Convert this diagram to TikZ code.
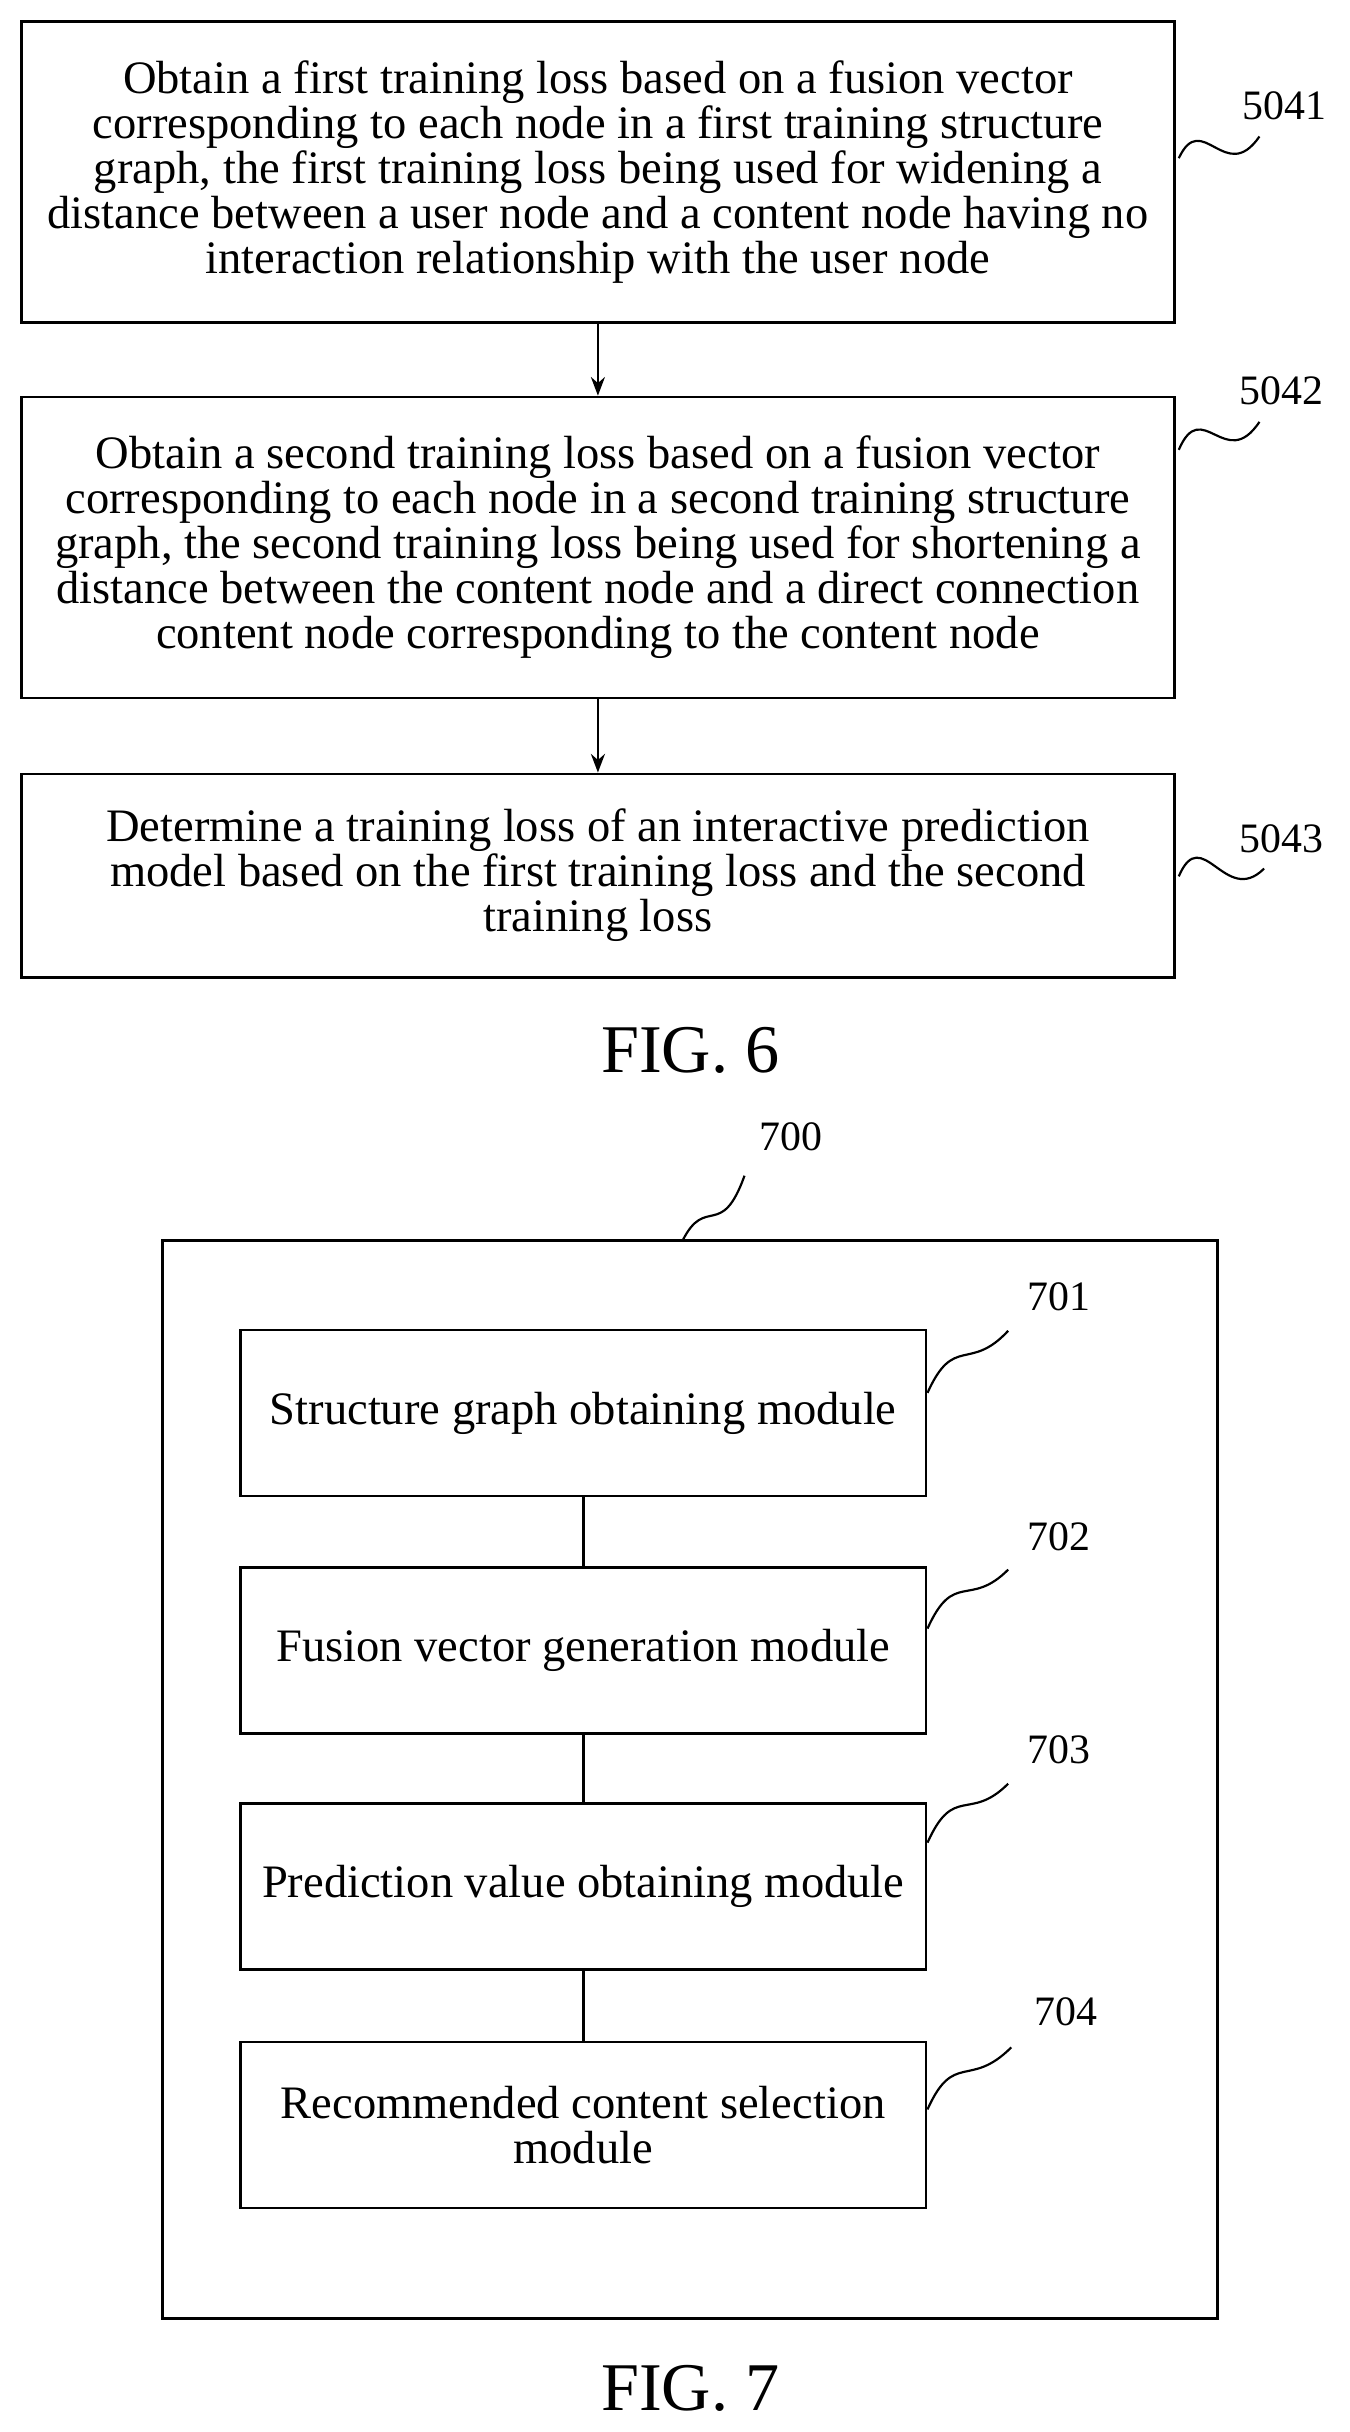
\documentclass[tikz,border=0pt]{standalone}
\usepackage{fontspec}
\setmainfont{Liberation Serif}
\usetikzlibrary{arrows.meta}
\begin{document}
\begin{tikzpicture}[x=1pt,y=-1pt,
  box/.style={draw,line width=1.8pt,align=center,font=\fontsize{30}{29}\selectfont,inner sep=0pt},
  lab/.style={font=\fontsize{27}{28}\selectfont},
  sq/.style={line width=1.4pt},
  arr/.style={line width=1.8pt,-{Stealth[length=12pt,width=9pt]}},
  fig/.style={font=\fontsize{44}{48}\selectfont}]
\useasboundingbox (0,0) rectangle (870,1568);
\node[box,minimum width=743,minimum height=194] (b1) at (385.5,111) {Obtain a first training loss based on a fusion vector\\corresponding to each node in a first training structure\\graph, the first training loss being used for widening a\\distance between a user node and a content node having no\\interaction relationship with the user node};
\node[box,minimum width=743,minimum height=194] (b2) at (385.5,353) {Obtain a second training loss based on a fusion vector\\corresponding to each node in a second training structure\\graph, the second training loss being used for shortening a\\distance between the content node and a direct connection\\content node corresponding to the content node};
\node[box,minimum width=743,minimum height=131] (b3) at (385.5,564.5) {Determine a training loss of an interactive prediction\\model based on the first training loss and the second\\training loss};
\draw[arr] (b1.south) -- (b2.north);
\draw[arr] (b2.south) -- (b3.north);
\node[lab] (l1) at (828,68) {5041};
\node[lab] (l2) at (826,252) {5042};
\node[lab] (l3) at (826,541) {5043};
\coordinate (c1) at (760,102); \coordinate (c2) at (760,290); \coordinate (c3) at (760,565);
\draw[sq] (c1) .. controls (775,70) and (790,120) .. (812,88);
\draw[sq] (c2) .. controls (775,255) and (790,305) .. (812,272);
\draw[sq] (c3) .. controls (775,530) and (790,585) .. (815,560);
\node[fig] (f6) at (445,677) {FIG. 6};
\node[draw,line width=1.8pt,minimum width=680,minimum height=695,inner sep=0pt] (outer) at (445,1147.5) {};
\node[lab] (l700) at (510,733) {700};
\draw[sq] (440,800) .. controls (455,770) and (465,800) .. (480,758);
\foreach \n/\y/\t in {701/911/{Structure graph obtaining module},702/1064/{Fusion vector generation module},703/1216.5/{Prediction value obtaining module},704/1370/{Recommended content selection\\module}}{
  \node[box,minimum width=442,minimum height=107] (m\n) at (376,\y) {\t};
}
\draw[line width=1.8pt] (m701) -- (m702); \draw[line width=1.8pt] (m702) -- (m703); \draw[line width=1.8pt] (m703) -- (m704);
\node[lab] at (683,836) {701}; \node[lab] at (683,991) {702};
\node[lab] at (683,1128) {703}; \node[lab] at (687,1297) {704};
\draw[sq] (598,898) .. controls (615,860) and (625,885) .. (650,858);
\draw[sq] (598,1050) .. controls (615,1012) and (625,1037) .. (650,1012);
\draw[sq] (598,1188) .. controls (615,1150) and (625,1175) .. (650,1150);
\draw[sq] (598,1360) .. controls (615,1322) and (625,1347) .. (652,1320);
\node[fig] (f7) at (445,1540) {FIG. 7};
\end{tikzpicture}
\end{document}
